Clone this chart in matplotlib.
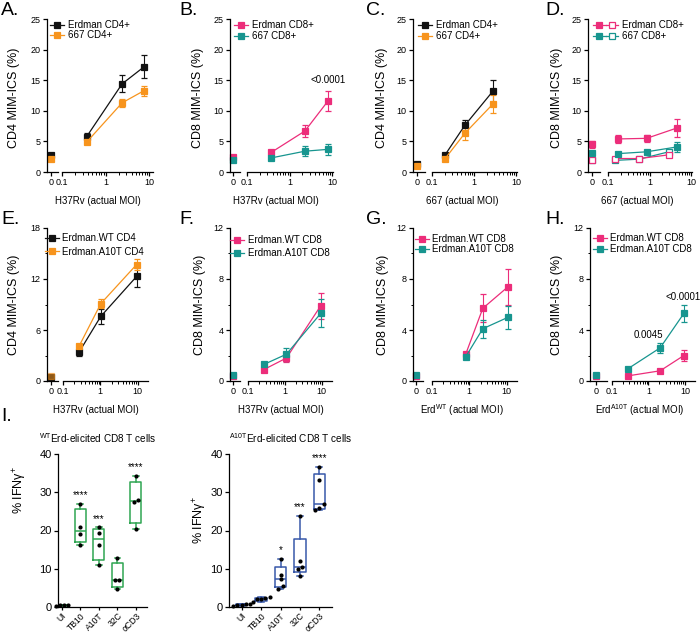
import numpy as np
import matplotlib
matplotlib.use('Agg')
import matplotlib.pyplot as plt
from matplotlib.lines import Line2D
from matplotlib.legend_handler import HandlerTuple
from matplotlib.ticker import LogLocator, NullFormatter, MultipleLocator

plt.rcParams['font.family'] = ['Liberation Sans', 'DejaVu Sans']
plt.rcParams['mathtext.fontset'] = 'custom'
plt.rcParams['mathtext.rm'] = 'Liberation Sans'
plt.rcParams['mathtext.it'] = 'Liberation Sans:italic'
plt.rcParams['axes.linewidth'] = 0.9

BLACK = '#121212'
ORANGE = '#F7941D'
PINK = '#EC2D7A'
TEAL = '#17958F'
GREEN = '#2FA552'
BLUE = '#3858AA'

# ---- A: H37Rv infection, CD4 ----
a_moi = [0, 0.37, 2.4, 7.7]
a_erd = [2.8, 5.8, 14.4, 17.2]
a_erd_sd = [0, 0.5, 1.4, 1.9]
a_667 = [2.2, 4.9, 11.3, 13.3]
a_667_sd = [0, 0.3, 0.6, 0.8]

# ---- B: H37Rv infection, CD8 ----
b_moi = [0, 0.37, 2.3, 8.0]
b_erd = [2.5, 3.2, 6.7, 11.6]
b_erd_sd = [0, 0.4, 1.0, 1.6]
b_667 = [2.0, 2.3, 3.4, 3.7]
b_667_sd = [0, 0.3, 0.8, 0.9]

# ---- C: 667 infection, CD4 ----
c_moi = [0, 0.2, 0.6, 2.8]
c_erd = [1.3, 2.7, 7.6, 13.2]
c_erd_sd = [0, 0.2, 0.9, 1.8]
c_667 = [0.9, 2.1, 6.3, 11.1]
c_667_sd = [0, 0.2, 1.0, 1.5]

# ---- D: 667 infection, CD8 (filled / open) ----
d_moi = [0, 0.17, 0.85, 4.6]
d_moi_open = [0, 0.15, 0.57, 2.9]
d_erd = [4.5, 5.4, 5.5, 7.2]
d_erd_sd = [0.5, 0.7, 0.6, 1.4]
d_667 = [3.1, 3.0, 3.3, 4.1]
d_667_sd = [0, 0.2, 0.3, 0.8]
d_erd_open = [2.0, 2.2, 2.2, 2.8]
d_erd_open_sd = [0, 0.1, 0.2, 0.3]
d_667_open = [2.0, 1.9, 2.1, 3.3]
d_667_open_sd = [0, 0.1, 0.1, 0.3]

# ---- E-H: WT vs A10T ----
e_moi = [0, 0.27, 1.03, 9.4]
e_wt = [0.5, 3.4, 7.6, 12.3]
e_wt_sd = [0, 0.4, 0.9, 1.3]
e_a10t = [0.6, 4.1, 9.1, 13.7]
e_a10t_sd = [0, 0.3, 0.5, 0.7]

f_moi = [0, 0.27, 1.1, 9.4]
f_wt = [0.4, 0.9, 1.8, 5.9]
f_wt_sd = [0, 0.1, 0.3, 1.0]
f_a10t = [0.45, 1.3, 2.1, 5.3]
f_a10t_sd = [0, 0.2, 0.5, 1.1]

g_moi = [0, 0.8, 2.3, 11.0]
g_wt = [0.4, 2.1, 5.7, 7.4]
g_wt_sd = [0, 0.2, 1.1, 1.4]
g_a10t = [0.45, 1.9, 4.1, 5.0]
g_a10t_sd = [0, 0.15, 0.7, 0.9]

h_moi = [0, 0.27, 2.1, 9.4]
h_wt = [0.4, 0.4, 0.8, 2.0]
h_wt_sd = [0, 0.05, 0.1, 0.4]
h_a10t = [0.45, 0.95, 2.6, 5.3]
h_a10t_sd = [0, 0.1, 0.4, 0.7]

# ---- I: IFNg+ CD8 T cells ----
i_groups = ['UI', 'TB10', 'A10T', '32C', 'αCD3']
i_wt = [[0.3, 0.4, 0.5, 0.4], [16.2, 19.0, 21.0, 27.0], [11.0, 16.2, 19.3, 20.8],
        [4.7, 7.0, 7.1, 12.9], [20.3, 27.4, 27.9, 34.3]]
i_a10t = [[0.3, 0.5, 0.6, 0.7, 0.8], [1.2, 2.0, 2.1, 2.3, 2.5], [4.8, 5.4, 7.3, 8.4, 12.5],
          [8.2, 9.9, 10.4, 11.9, 23.8], [25.3, 26.0, 26.9, 33.2, 36.6]]
i_wt_stars = ['', '****', '***', '', '****']
i_a10t_stars = ['', '', '*', '***', '****']

W, H = 700, 633
fig = plt.figure(figsize=(W / 100, H / 100), dpi=100)


def add_px(x0, x1, ytop, ybot):
    ax = fig.add_axes([x0 / W, 1 - ybot / H, (x1 - x0) / W, (ybot - ytop) / H])
    ax.patch.set_alpha(0)
    ax.spines[['top', 'right']].set_visible(False)
    ax.tick_params(labelsize=6.5, length=3, width=0.9, pad=1.5)
    return ax


def moi_panel(box, ymax, ystep, xmax, minor_y=False):
    x_sp, x_z, x_l0, x_l1, ytop, ybot = box
    ax0 = add_px(x_sp, x_z, ytop, ybot)
    ax1 = add_px(x_l0, x_l1, ytop, ybot)
    for ax in (ax0, ax1):
        ax.set_ylim(0, ymax)
    ax0.set_yticks(np.arange(0, ymax + 0.1, ystep))
    if minor_y:
        ax0.yaxis.set_minor_locator(MultipleLocator(ystep / 2))
        ax0.tick_params(axis='y', which='minor', length=1.8, width=0.7)
    ax0.set_xlim(-1, 2)
    ax0.set_xticks([0], ['0'])
    ax1.spines['left'].set_visible(False)
    ax1.tick_params(axis='y', which='both', left=False, labelleft=False)
    ax1.set_xscale('log')
    ax1.set_xlim(0.1, xmax)
    ax1.set_xticks([0.1, 1, 10], ['0.1', '1', '10'])
    ax1.xaxis.set_minor_locator(LogLocator(base=10, subs=np.arange(2, 10)))
    ax1.xaxis.set_minor_formatter(NullFormatter())
    ax1.tick_params(axis='x', which='minor', length=1.8, width=0.7)
    return ax0, ax1


def series(axes, moi, vals, err, color, filled=True, zalpha=1.0):
    ax0, ax1 = axes
    moi = np.asarray(moi, float)
    vals = np.asarray(vals, float)
    err = np.asarray(err, float)
    z = moi == 0
    kw = dict(marker='s', ms=4.6, mec=color, mfc=color if filled else 'white', mew=0.9,
              color=color, ecolor=color, elinewidth=0.8, capsize=2.2, capthick=0.8,
              clip_on=False)
    ax1.errorbar(moi[~z], vals[~z], yerr=err[~z], lw=0.9, **kw)
    if z.any():
        ax0.errorbar(moi[z], vals[z], yerr=err[z], ls='none', alpha=zalpha, **kw)


def handle(color, filled=True):
    return Line2D([], [], color=color, marker='s', ms=4.6, mec=color,
                  mfc=color if filled else 'white', mew=0.9, lw=0.9)


def legend_at(ax, handles, labels, x, y, spacing, hlen=1.4, **kw):
    ax.legend(handles, labels, loc='upper left', bbox_to_anchor=(x / W, 1 - y / H),
              bbox_transform=fig.transFigure, frameon=False, fontsize=7, borderpad=0,
              borderaxespad=0, handlelength=hlen, handletextpad=0.4, labelspacing=spacing, **kw)


def labels(letter, lxy, ylab, yxy, xlab, xxy):
    fig.text(lxy[0] / W, 1 - lxy[1] / H, letter, fontsize=14, va='top', ha='left')
    fig.text(yxy[0] / W, 1 - yxy[1] / H, ylab, fontsize=9, rotation=90, ha='center', va='center')
    fig.text(xxy[0] / W, 1 - xxy[1] / H, xlab, fontsize=7, ha='center', va='center')


# ---------- row 1 ----------
axA = moi_panel((47, 58, 62, 153, 19, 172), 25, 5, 12.3)
series(axA, a_moi, a_erd, a_erd_sd, BLACK)
series(axA, a_moi, a_667, a_667_sd, ORANGE)
legend_at(axA[1], [handle(BLACK), handle(ORANGE)], ['Erdman CD4+', '667 CD4+'], 50, 20, 0.05)
labels('A.', (1, 2), 'CD4 MIM-ICS (%)', (14, 98), 'H37Rv (actual MOI)', (98, 201))

axB = moi_panel((230, 240, 247, 333, 19, 172), 25, 5, 10.5)
series(axB, b_moi, b_erd, b_erd_sd, PINK)
series(axB, b_moi, b_667, b_667_sd, TEAL)
legend_at(axB[1], [handle(PINK), handle(TEAL)], ['Erdman CD8+', '667 CD8+'], 234, 20, 0.1)
axB[1].text(8.0, 15.0, '<0.0001', fontsize=7, ha='center', va='center')
labels('B.', (179, 2), 'CD8 MIM-ICS (%)', (198, 98), 'H37Rv (actual MOI)', (276, 201))

axC = moi_panel((413, 425, 432, 517, 19, 172), 25, 5, 10.5)
series(axC, c_moi, c_erd, c_erd_sd, BLACK)
series(axC, c_moi, c_667, c_667_sd, ORANGE)
legend_at(axC[1], [handle(BLACK), handle(ORANGE)], ['Erdman CD4+', '667 CD4+'], 418, 20, 0.1)
labels('C.', (366, 2), 'CD4 MIM-ICS (%)', (382, 98), '667 (actual MOI)', (462, 201))

axD = moi_panel((588, 600, 608, 692, 19, 172), 25, 5, 10.5)
series(axD, d_moi_open, d_667_open, d_667_open_sd, TEAL, filled=False)
series(axD, d_moi_open, d_erd_open, d_erd_open_sd, PINK, filled=False)
series(axD, d_moi, d_667, d_667_sd, TEAL)
series(axD, d_moi, d_erd, d_erd_sd, PINK)
legend_at(axD[1], [(handle(PINK), handle(PINK, False)), (handle(TEAL), handle(TEAL, False))],
          ['Erdman CD8+', '667 CD8+'], 593, 20, 0.1, hlen=2.6,
          handler_map={tuple: HandlerTuple(ndivide=None, pad=0)})
labels('D.', (545, 2), 'CD8 MIM-ICS (%)', (557, 98), '667 (actual MOI)', (637, 201))

# ---------- row 2 ----------
axE = moi_panel((47, 58, 63, 148, 228, 381), 18, 6, 19, minor_y=True)
series(axE, e_moi, e_wt, e_wt_sd, BLACK)
series(axE, e_moi, e_a10t, e_a10t_sd, ORANGE, zalpha=0.55)
legend_at(axE[1], [handle(BLACK), handle(ORANGE)], ['Erdman.WT CD4', 'Erdman.A10T CD4'], 45, 233, 0.4)
labels('E.', (1, 211), 'CD4 MIM-ICS (%)', (14, 305), 'H37Rv (actual MOI)', (96, 410))

axF = moi_panel((230, 240, 248, 332, 228, 381), 12, 4, 19, minor_y=True)
series(axF, f_moi, f_wt, f_wt_sd, PINK)
series(axF, f_moi, f_a10t, f_a10t_sd, TEAL)
legend_at(axF[1], [handle(PINK), handle(TEAL)], ['Erdman.WT CD8', 'Erdman.A10T CD8'], 230, 235, 0.3)
labels('F.', (179, 211), 'CD8 MIM-ICS (%)', (200, 305), 'H37Rv (actual MOI)', (281, 410))

axG = moi_panel((413, 423, 432, 517, 228, 381), 12, 4, 19, minor_y=True)
series(axG, g_moi, g_wt, g_wt_sd, PINK)
series(axG, g_moi, g_a10t, g_a10t_sd, TEAL)
legend_at(axG[1], [handle(PINK), handle(TEAL)], ['Erdman.WT CD8', 'Erdman.A10T CD8'], 415, 234, 0.05)
labels('G.', (366, 211), 'CD8 MIM-ICS (%)', (383, 305), r'Erd$^{\rm WT}$ (actual MOI)', (462, 410))

axH = moi_panel((590, 607, 612, 695, 228, 381), 12, 4, 19, minor_y=True)
series(axH, h_moi, h_wt, h_wt_sd, PINK)
series(axH, h_moi, h_a10t, h_a10t_sd, TEAL)
legend_at(axH[1], [handle(PINK), handle(TEAL)], ['Erdman.WT CD8', 'Erdman.A10T CD8'], 593, 233, 0.1)
axH[1].text(1.0, 3.6, '0.0045', fontsize=7, ha='center', va='center')
axH[1].text(9.2, 6.6, '<0.0001', fontsize=7, ha='center', va='center')
labels('H.', (545, 211), 'CD8 MIM-ICS (%)', (557, 305), r'Erd$^{\rm A10T}$ (actual MOI)', (640, 410))


# ---------- row 3: box plots ----------
def spread(vals, tol=1.0, step=0.22):
    v = np.asarray(vals, float)
    order = np.argsort(v)
    off = np.zeros(len(v))
    groups = [[order[0]]]
    for i in order[1:]:
        if v[i] - v[groups[-1][-1]] < tol:
            groups[-1].append(i)
        else:
            groups.append([i])
    for g in groups:
        for k, idx in enumerate(g):
            off[idx] = (k - (len(g) - 1) / 2) * step
    return off


def box_panel(x0, x1, xlim, data, stars, color):
    ax = add_px(x0, x1, 454, 607)
    ax.set_ylim(0, 40)
    ax.set_xlim(*xlim)
    ax.set_yticks([0, 10, 20, 30, 40])
    ax.tick_params(axis='y', labelsize=8)
    stats = []
    for vals in data:
        v = np.asarray(vals, float)
        q1, med, q3 = np.percentile(v, [25, 50, 75], method='weibull')
        stats.append(dict(med=med, q1=q1, q3=q3, whislo=v.min(), whishi=v.max(), fliers=[]))
    lp = dict(color=color, lw=1.1)
    ax.bxp(stats, positions=range(len(data)), widths=0.6, showfliers=False,
           boxprops=lp, medianprops=lp, whiskerprops=lp, capprops=lp, capwidths=0.3)
    for i, vals in enumerate(data):
        ax.scatter(i + spread(vals), vals, s=9, color='black', zorder=4, clip_on=False, lw=0)
        if stars[i]:
            ax.text(i, max(vals) + 1.0, stars[i], fontsize=7, ha='center', va='bottom')
    ax.set_xticks(range(len(data)), i_groups, rotation=45, ha='right', rotation_mode='anchor',
                  fontsize=6.2)
    ax.tick_params(axis='x', pad=0.8, length=2.2)
    return ax


axI1 = box_panel(58, 147, (-0.2, 4.6), i_wt, i_wt_stars, GREEN)
axI2 = box_panel(229, 332, (-0.65, 4.65), i_a10t, i_a10t_stars, BLUE)
fig.text(1 / W, 1 - 408 / H, 'I.', fontsize=14, va='top', ha='left')
fig.text(98 / W, 1 - 438 / H, r'$^{\rm WT}$Erd-elicited CD8 T cells', fontsize=7.2,
         ha='center', va='center')
fig.text(291 / W, 1 - 438 / H, r'$^{\rm A10T}$Erd-elicited CD8 T cells', fontsize=7.2,
         ha='center', va='center')
fig.text(20 / W, 1 - 490 / H, '% IFNγ$^{+}$', fontsize=9, rotation=90, ha='center', va='center')
fig.text(200 / W, 1 - 520 / H, '% IFNγ$^{+}$', fontsize=9, rotation=90, ha='center', va='center')

fig.savefig('out.png', dpi=100)
